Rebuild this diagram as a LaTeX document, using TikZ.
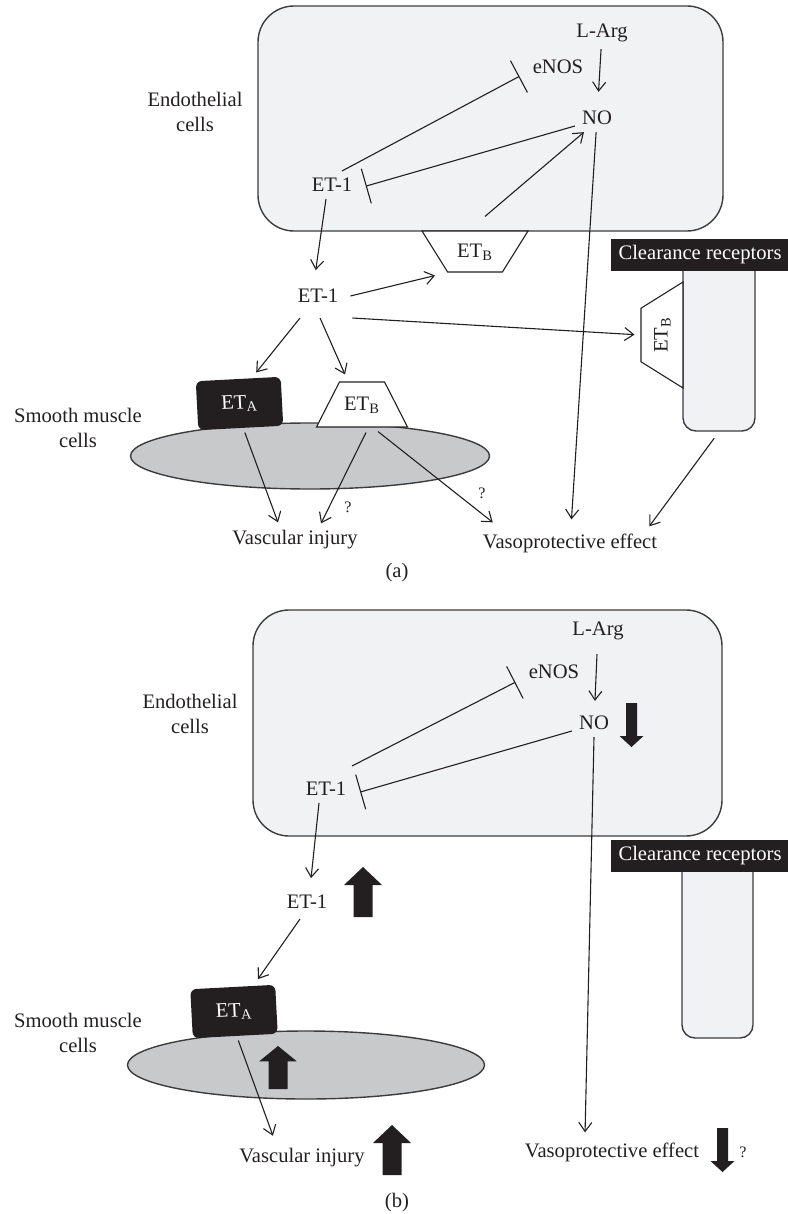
\documentclass[tikz,border=0pt]{standalone}
\usepackage{fontspec}
\setmainfont{Liberation Serif}
\usetikzlibrary{arrows.meta,shapes.geometric}
\definecolor{ink}{HTML}{231F20}
\definecolor{cellfill}{HTML}{F1F2F4}
\definecolor{musclefill}{HTML}{C8C9CB}
\definecolor{edge}{HTML}{3C3C3C}

\begin{document}
\begin{tikzpicture}[x=0.5pt,y=-0.5pt,color=ink,line width=0.55pt,
  every node/.style={text=ink,font=\fontsize{10.3}{12.5}\selectfont},
  >={Straight Barb[length=4.5pt,width=6.5pt]},
  cell/.style={draw=edge,fill=cellfill,rounded corners=18pt,line width=0.7pt},
  muscle/.style={ellipse,draw=edge,fill=musclefill,inner sep=0pt,line width=0.7pt},
  rec/.style={trapezium,draw=ink,fill=white,trapezium stretches body,text height=7pt,text depth=1.5pt,inner xsep=1pt},
  eta/.style={rectangle,fill=ink,text=white,rounded corners=3pt,minimum width=42.5pt,minimum height=24.5pt,rotate=3},
  clabel/.style={fill=ink,text=white,minimum height=16pt,inner xsep=4pt},
  crect/.style={draw=edge,fill=cellfill,rounded corners=6.5pt,minimum width=36pt,line width=0.7pt},
  inh/.style={-{Bar[width=18pt]}},
  q/.style={font=\footnotesize},
  upthick/.pic={\fill (0,-25) -- (19,-7) -- (9.5,-7) -- (9.5,25) -- (-9.5,25) -- (-9.5,-7) -- (-19,-7) -- cycle;},
  downthin/.pic={\fill (0,22) -- (12,11) -- (5.5,11) -- (5.5,-22) -- (-5.5,-22) -- (-5.5,11) -- (-12,11) -- cycle;}]
  \useasboundingbox (0,0) rectangle (787,1214);

  % (a)
  \draw[cell] (258,6) rectangle (723,231);
  \node[align=center] (endo) at (195,112) {Endothelial\\cells};
  \node (larg) at (602,33) {L-Arg};
  \node (enos) at (558,67) {eNOS};
  \node (no) at (597,118) {NO};
  \node (et) at (332,185) {ET-1};
  \node[rec,shape border rotate=180,trapezium angle=58,minimum width=53pt,inner ysep=6pt] (etb) at (475,251.5) {ET\textsubscript{B}};
  \node (etm) at (318,296) {ET-1};
  \node[crect,minimum height=88pt] (clr) at (719,343) {};
  \node[clabel,minimum width=87pt] (clrl) at (700,255) {Clearance receptors};
  \node[rec,rotate=90,trapezium angle=58,minimum width=53pt,inner ysep=6.25pt] (etbc) at (662,335) {ET\textsubscript{B}};
  \node[muscle,minimum width=179.5pt,minimum height=33pt] (smc) at (310,456) {};
  \node[align=center] (smcl) at (78,428) {Smooth muscle\\cells};
  \node[eta] (eta) at (239.5,403.5) {ET\textsubscript{A}};
  \node[rec,trapezium angle=63,minimum width=45.5pt,inner ysep=7pt] (etbs) at (362,404.5) {ET\textsubscript{B}};
  \node (inj) at (295,540) {Vascular injury};
  \node (vaso) at (570,543) {Vasoprotective effect};
  \node[q] (qa) at (348,507) {?};
  \node[q] (qb) at (482,493) {?};
  \node (capa) at (397,573) {(a)};

  \draw[->,shorten >=6pt] (larg) -- (no);
  \draw[inh,shorten >=3.5pt] ([xshift=5pt]et.north) -- ([yshift=-3pt]enos.west);
  \draw[inh,shorten >=3.3pt] ([yshift=-4pt]no.west) -- ([yshift=-1.5pt]et.east);
  \draw[->] ([xshift=5pt,yshift=7pt]etb.north) -- ([xshift=-6.5pt]no.south);
  \draw[->,shorten >=6pt] ([xshift=-3pt]et.south) -- ([xshift=-2pt]etm.north);
  \draw[->] ([xshift=2.5pt]etm.east) -- ([xshift=-20pt,yshift=-1.5pt]etb.south);
  \draw[->,shorten >=3pt] ([xshift=3.5pt,yshift=-4pt]etm.south east) -- (etbc.north);
  \draw[->] ([xshift=-9pt,yshift=-4pt]etm.south) -- ([xshift=9pt,yshift=3pt]eta.north);
  \draw[->] ([xshift=1pt,yshift=-4pt]etm.south) -- ([xshift=-8.5pt,yshift=3.5pt]etbs.north);
  \draw[->] ([xshift=2pt,yshift=-2pt]eta.south) -- ([xshift=-8.5pt,yshift=0.5pt]inj.north);
  \draw[->] ([xshift=2pt,yshift=-2.5pt]etbs.south) -- ([xshift=13pt]inj.north);
  \draw[->] ([xshift=8pt,yshift=-2pt]etbs.south) -- ([xshift=8.5pt,yshift=2pt]vaso.north west);
  \draw[->,shorten >=3.5pt] (no) -- (vaso);
  \draw[->,shorten <=4pt] (clr.south) -- ([xshift=-7.5pt]vaso.north east);

  % (b)
  \draw[cell] (253,610) rectangle (722,836);
  \node[align=center] (endo2) at (190,714) {Endothelial\\cells};
  \node (larg2) at (598,631) {L-Arg};
  \node (enos2) at (554,672) {eNOS};
  \node (no2) at (594,723) {NO};
  \node (et2) at (326,789) {ET-1};
  \node (etm2) at (307,902) {ET-1};
  \node[crect,minimum height=91pt,minimum width=35.5pt] (clr2) at (717.5,947) {};
  \node[clabel,minimum width=87pt] (clrl2) at (700,856) {Clearance receptors};
  \node[muscle,minimum width=178.5pt,minimum height=34pt] (smc2) at (306,1065) {};
  \node[align=center] (smcl2) at (78,1033) {Smooth muscle\\cells};
  \node[eta] (eta2) at (234,1011.5) {ET\textsubscript{A}};
  \node (inj2) at (302,1158) {Vascular injury};
  \node (vaso2) at (612,1152) {Vasoprotective effect};
  \node[q] (qc) at (743,1152) {?};
  \node (capb) at (397,1203) {(b)};
  \pic at (363,892) {upthick};
  \pic[yscale=0.86] at (278,1067.5) {upthick};
  \pic at (392,1150) {upthick};
  \pic at (631.5,725) {downthin};
  \pic at (722.5,1150) {downthin};

  \draw[->,shorten <=3.5pt,shorten >=4pt] (larg2) -- (no2);
  \draw[inh,shorten >=3.5pt] ([xshift=13pt,yshift=4.5pt]et2.north) -- ([yshift=-3.5pt]enos2.west);
  \draw[inh,shorten >=3.5pt] ([yshift=-4pt]no2.west) -- ([yshift=-2.5pt]et2.east);
  \draw[->,shorten >=5pt] ([xshift=-3.5pt]et2.south) -- ([xshift=1.5pt]etm2.north);
  \draw[->,shorten >=4.5pt] ([xshift=-3.5pt,yshift=-1.5pt]etm2.south) -- ([xshift=10pt]eta2.north);
  \draw[->,shorten >=3pt] ([xshift=1.5pt,yshift=-2pt]eta2.south) -- ([xshift=-13.5pt]inj2.north);
  \draw[->,shorten >=1.5pt] (no2.south) -- ([xshift=-13.5pt]vaso2.north);
\end{tikzpicture}
\end{document}
